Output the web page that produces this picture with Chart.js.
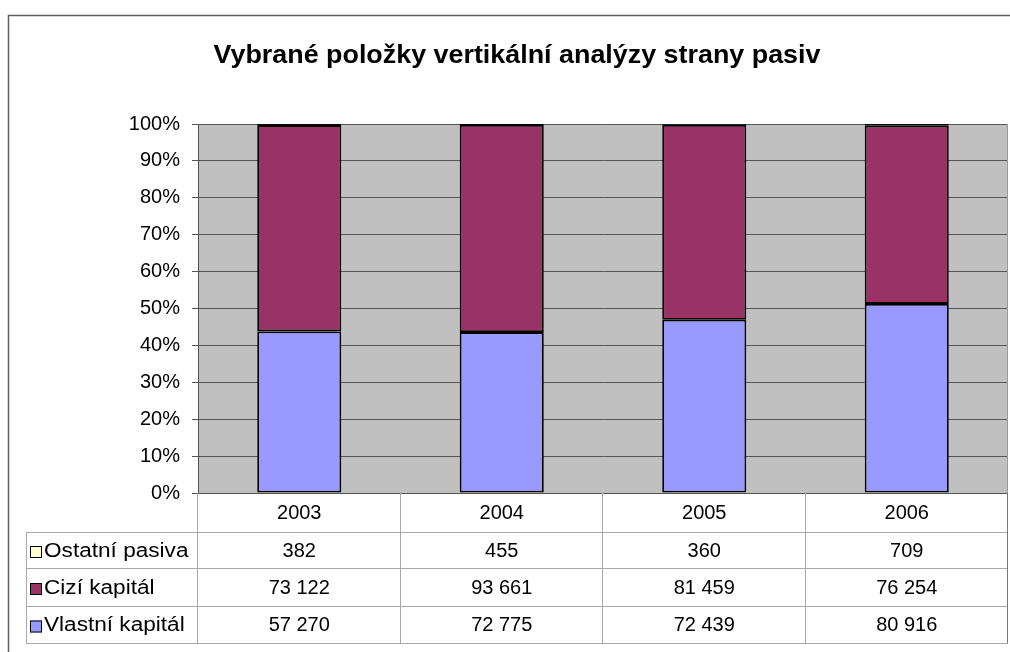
<!DOCTYPE html>
<html>
<head>
<meta charset="utf-8">
<script src="https://cdn.jsdelivr.net/npm/chart.js@4"></script>
<style>
  body { margin: 0; background: #fff; }
  #wrap { width: 1010px; height: 652px; }
</style>
</head>
<body>
<div id="wrap"><canvas id="pasiva" width="1010" height="652"></canvas></div>
<script>
const years = ['2003', '2004', '2005', '2006'];
const ostatniPasiva = [382, 455, 360, 709];
const ciziKapital = [73122, 93661, 81459, 76254];
const vlastniKapital = [57270, 72775, 72439, 80916];
const seriesNames = ['Vlastní kapitál', 'Cizí kapitál', 'Ostatní pasiva'];
const seriesColors = ['#9999ff', '#993366', '#ffffcc'];
const chartTitle = 'Vybrané položky vertikální analýzy strany pasiv';

const font = '"Liberation Sans", Arial, sans-serif';

// share of each item in the year's total, in %
let totals = years.map((y, i) => ostatniPasiva[i] + ciziKapital[i] + vlastniKapital[i]);
const pct = arr => arr.map((v, i) => v / totals[i] * 100);

const fmt = v => String(v).replace(/\B(?=(\d{3})+(?!\d))/g, ' ');

// text a bit wider than the font, like the original export
function wideText(ctx, text, x, y, sx) {
  ctx.save();
  ctx.translate(x, y);
  ctx.scale(sx, 1);
  ctx.fillText(text, 0, 0);
  ctx.restore();
}

// title, table under the plot, outer frame
const tablePlugin = {
  id: 'tablePlugin',
  beforeDraw(chart) {
    const a = chart.chartArea, ctx = chart.ctx;
    ctx.save();
    ctx.fillStyle = '#c0c0c0';
    ctx.fillRect(a.left, a.top, a.right - a.left, a.bottom - a.top);
    ctx.restore();
  },
  afterDraw(chart) {
    const a = chart.chartArea, ctx = chart.ctx;
    const x = chart.scales.x;
    const half = (a.right - a.left) / years.length / 2;
    const rowLines = [532, 568, 606, 643];
    const tableLeft = 26;

    ctx.save();
    // title
    ctx.fillStyle = '#000';
    ctx.font = 'bold 25px ' + font;
    ctx.textAlign = 'center';
    ctx.textBaseline = 'alphabetic';
    wideText(ctx, chartTitle, 517, 63, 1.075);

    // right border of the plot
    ctx.strokeStyle = '#9a9a9a';
    ctx.lineWidth = 1;
    ctx.beginPath();
    ctx.moveTo(a.right - 0.5, a.top);
    ctx.lineTo(a.right - 0.5, a.bottom);
    ctx.stroke();

    // table grid
    ctx.strokeStyle = '#a8a8a8';
    ctx.beginPath();
    for (const y of rowLines) {
      ctx.moveTo(tableLeft, y + 0.5);
      ctx.lineTo(a.right, y + 0.5);
    }
    ctx.moveTo(tableLeft + 0.5, rowLines[0]);
    ctx.lineTo(tableLeft + 0.5, rowLines[3]);
    for (let i = 0; i <= years.length; i++) {
      const cx = Math.round(i < years.length ? x.getPixelForValue(i) - half : a.right) - 0.5;
      ctx.moveTo(cx, a.bottom);
      ctx.lineTo(cx, rowLines[3]);
    }
    ctx.stroke();
    ctx.strokeStyle = '#777';
    ctx.beginPath();
    ctx.moveTo(a.right - 0.5, a.bottom);
    ctx.lineTo(a.right - 0.5, rowLines[3]);
    ctx.stroke();

    // texts
    ctx.fillStyle = '#000';
    ctx.font = '20px ' + font;
    ctx.textAlign = 'center';
    ctx.textBaseline = 'middle';
    years.forEach((yr, i) => ctx.fillText(yr, x.getPixelForValue(i), 513));

    const rows = [
      [seriesNames[2], seriesColors[2], ostatniPasiva],
      [seriesNames[1], seriesColors[1], ciziKapital],
      [seriesNames[0], seriesColors[0], vlastniKapital]
    ];
    rows.forEach((r, k) => {
      const cy = (rowLines[k] + rowLines[k + 1]) / 2 + 1;
      ctx.fillStyle = r[1];
      ctx.fillRect(30, cy - 5, 12, 12);
      ctx.strokeStyle = '#000';
      ctx.lineWidth = 1;
      ctx.strokeRect(30.5, cy - 4.5, 11, 11);
      ctx.fillStyle = '#000';
      ctx.textAlign = 'left';
      wideText(ctx, r[0], 44, cy, 1.13);
      ctx.textAlign = 'center';
      r[2].forEach((v, i) => ctx.fillText(fmt(v), x.getPixelForValue(i), cy));
    });

    // outer frame
    ctx.strokeStyle = '#606060';
    ctx.lineWidth = 1.5;
    ctx.beginPath();
    ctx.moveTo(8.5, 652);
    ctx.lineTo(8.5, 15.5);
    ctx.lineTo(1010, 15.5);
    ctx.stroke();
    ctx.restore();
  }
};

const ctx = document.getElementById('pasiva').getContext('2d');
const chart = new Chart(ctx, {
  type: 'bar',
  data: {
    labels: years,
    datasets: [
      { label: seriesNames[0], data: pct(vlastniKapital), backgroundColor: seriesColors[0] },
      { label: seriesNames[1], data: pct(ciziKapital), backgroundColor: seriesColors[1] },
      { label: seriesNames[2], data: pct(ostatniPasiva), backgroundColor: seriesColors[2] }
    ].map(d => Object.assign(d, {
      borderColor: '#000',
      borderWidth: 1.8,
      borderSkipped: false,
      categoryPercentage: 1,
      barPercentage: 0.415
    }))
  },
  options: {
    responsive: false,
    animation: false,
    devicePixelRatio: 1,
    layout: { padding: { left: 22, right: 2, top: 124, bottom: 159 } },
    plugins: {
      legend: { display: false },
      tooltip: { enabled: false },
      title: { display: false }
    },
    scales: {
      x: { stacked: true, display: false },
      y: {
        stacked: true,
        min: 0,
        max: 100,
        afterFit: s => { s.width = 176; },
        border: { display: true, color: '#555', width: 1 },
        grid: { color: '#555', lineWidth: 1, tickLength: 6 },
        ticks: {
          stepSize: 10,
          padding: 12,
          color: '#000',
          font: { family: font, size: 20 },
          callback: v => v + '%'
        }
      }
    }
  },
  plugins: [tablePlugin]
});
</script>
</body>
</html>
